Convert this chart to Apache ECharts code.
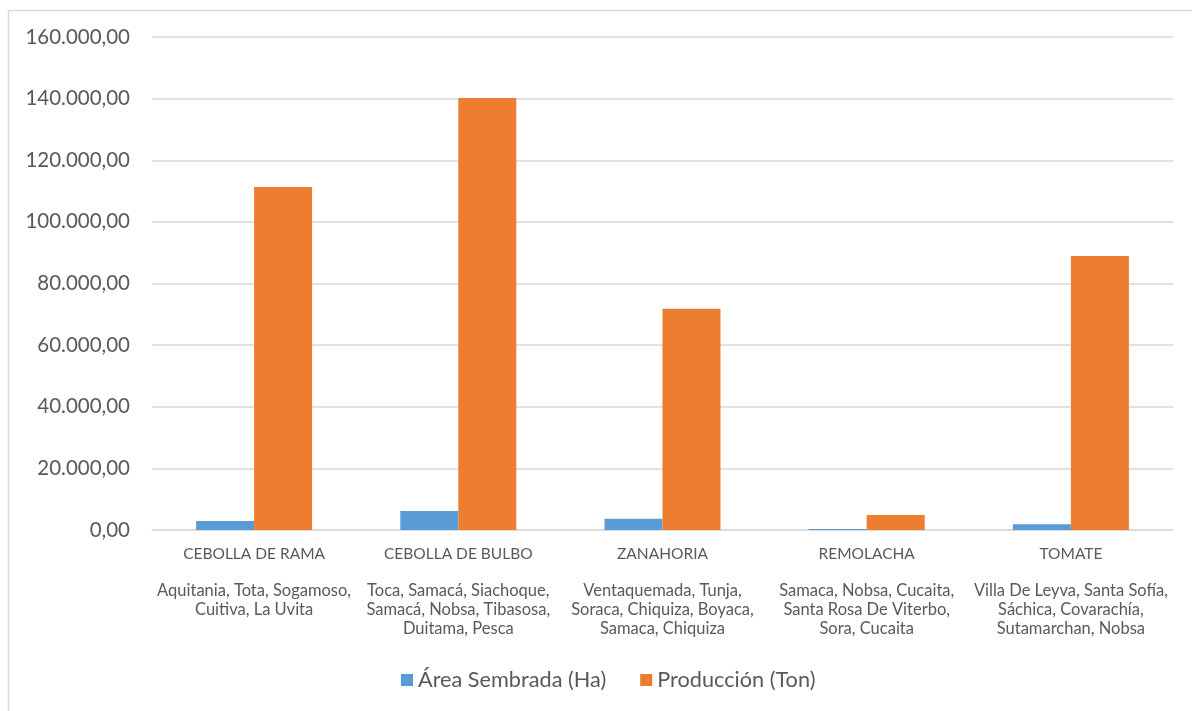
<!DOCTYPE html>
<html>
<head>
<meta charset="utf-8">
<style>
  html, body { margin: 0; padding: 0; background: #ffffff; }
  #chart { width: 1192px; height: 711px; }
</style>
<script src="https://cdn.jsdelivr.net/npm/echarts@6/dist/echarts.min.js"></script>
</head>
<body>
<div id="chart"></div>
<script>
// Cultivos y municipios productores
const cultivos = ['CEBOLLA DE RAMA', 'CEBOLLA DE BULBO', 'ZANAHORIA', 'REMOLACHA', 'TOMATE'];
const municipios = [
  'Aquitania, Tota, Sogamoso,\nCuitiva, La Uvita',
  'Toca, Samacá, Siachoque,\nSamacá, Nobsa, Tibasosa,\nDuitama, Pesca',
  'Ventaquemada, Tunja,\nSoraca, Chiquiza, Boyaca,\nSamaca, Chiquiza',
  'Samaca, Nobsa, Cucaita,\nSanta Rosa De Viterbo,\nSora, Cucaita',
  'Villa De Leyva, Santa Sofía,\nSáchica, Covarachía,\nSutamarchan, Nobsa'
];
const areaSembrada = [2900, 6150, 3650, 350, 1900];
const produccion = [111300, 140200, 71800, 4900, 88900];
const serieNombres = ['Área Sembrada (Ha)', 'Producción (Ton)'];

const textColor = '#595959';
const fontFamily = 'Lato, "Open Sans", sans-serif';

// 160000 -> "160.000,00"
function formatoES(v) {
  const entero = Math.round(v).toString().replace(/\B(?=(\d{3})+(?!\d))/g, '.');
  return entero + ',00';
}

const chart = echarts.init(document.getElementById('chart'), null, { renderer: 'canvas' });

chart.setOption({
  backgroundColor: '#ffffff',
  animation: false,
  textStyle: { fontFamily: fontFamily },
  graphic: [
    { type: 'line', shape: { x1: 8.5, y1: 10.5, x2: 1192, y2: 10.5 }, style: { stroke: '#D9D9D9', lineWidth: 1.5 } },
    { type: 'line', shape: { x1: 8.5, y1: 10.5, x2: 8.5, y2: 711 }, style: { stroke: '#D9D9D9', lineWidth: 1.5 } }
  ],
  grid: { left: 152, right: 19, top: 37, bottom: 181, containLabel: false },
  legend: {
    data: serieNombres,
    left: 396,
    top: 664,
    itemWidth: 12,
    itemHeight: 12,
    itemGap: 34,
    icon: 'rect',
    textStyle: { color: textColor, fontSize: 21.7, fontFamily: fontFamily }
  },
  xAxis: {
    type: 'category',
    data: cultivos,
    axisLine: { lineStyle: { color: '#D9D9D9', width: 1.5 } },
    axisTick: { show: false },
    axisLabel: {
      interval: 0,
      margin: 14,
      formatter: function (value, idx) {
        return '{n|' + value + '}\n{s| }\n' + municipios[idx].split('\n').map(function (l) { return '{m|' + l + '}'; }).join('\n');
      },
      rich: {
        n: { fontSize: 15.5, color: textColor, lineHeight: 19, fontFamily: fontFamily },
        s: { fontSize: 10, lineHeight: 18 },
        m: { fontSize: 16.5, color: textColor, lineHeight: 19, fontFamily: fontFamily }
      }
    }
  },
  yAxis: {
    type: 'value',
    min: 0,
    max: 160000,
    interval: 20000,
    axisLine: { show: false },
    axisTick: { show: false },
    splitLine: { lineStyle: { color: '#D9D9D9', width: 1.5 } },
    axisLabel: {
      color: textColor,
      fontSize: 20.5,
      margin: 22,
      fontFamily: fontFamily,
      formatter: formatoES
    }
  },
  series: [
    {
      name: serieNombres[0],
      type: 'bar',
      data: areaSembrada,
      barWidth: '28.4%',
      barGap: '0%',
      itemStyle: { color: '#5B9BD5' }
    },
    {
      name: serieNombres[1],
      type: 'bar',
      data: produccion,
      barWidth: '28.4%',
      itemStyle: { color: '#ED7D31' }
    }
  ]
});
</script>
</body>
</html>
